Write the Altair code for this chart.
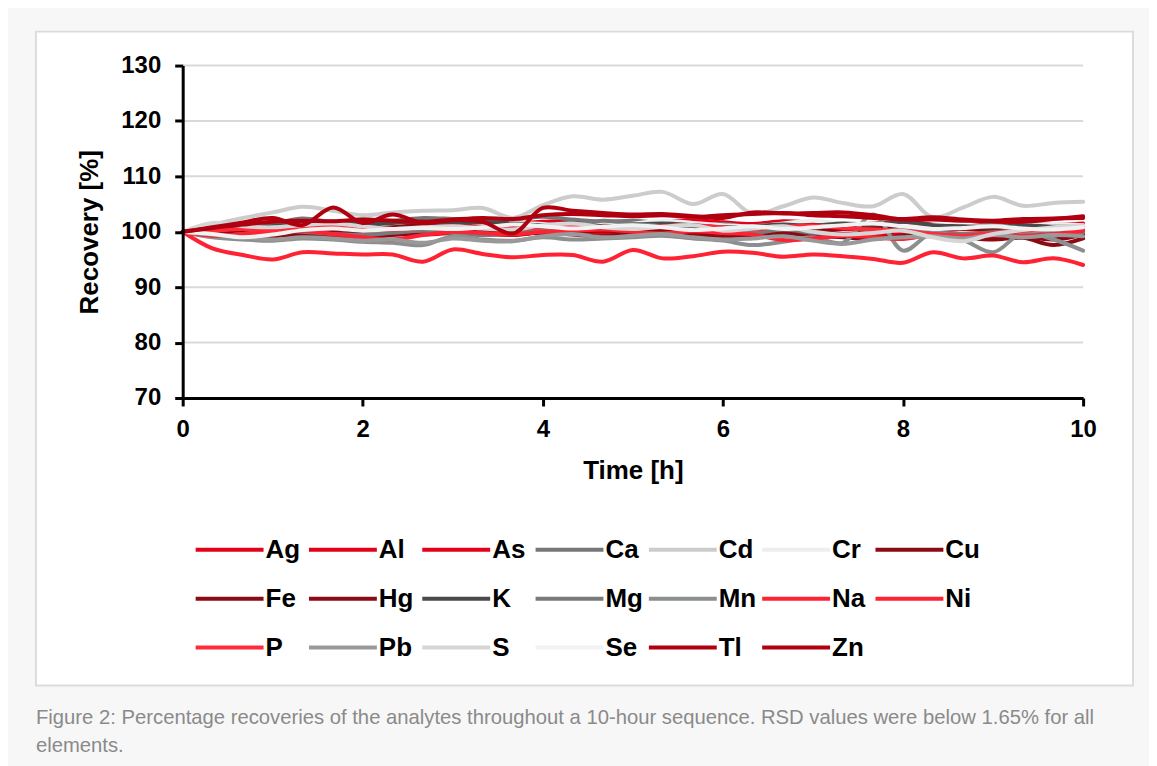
import altair as alt
import pandas as pd

time_h = [0, 0.33, 0.67, 1.0, 1.33, 1.67, 2.0, 2.33, 2.67, 3.0, 3.33, 3.67, 4.0, 4.33, 4.67,
          5.0, 5.33, 5.67, 6.0, 6.33, 6.67, 7.0, 7.33, 7.67, 8.0, 8.33, 8.67, 9.0, 9.33, 9.67, 10.0]

elements = ["Ag", "Al", "As", "Ca", "Cd", "Cr", "Cu",
            "Fe", "Hg", "K", "Mg", "Mn", "Na", "Ni",
            "P", "Pb", "S", "Se", "Tl", "Zn"]
colors = ["#e2001a", "#e2001a", "#e2001a", "#777777", "#cccccc", "#eeeeee", "#8b0a13",
          "#8b0a13", "#8b0a13", "#4a4a4a", "#7a7a7a", "#8c8f8f", "#ff2233", "#ff2233",
          "#ff2a3a", "#999999", "#d6d6d6", "#f2f2f2", "#b0000f", "#b0000f"]

ag = [100, 99.9, 100.1, 100.0, 100.2, 99.9, 100.1, 100.3, 100.0, 100.2, 100.4, 100.1, 100.3, 100.5, 100.2,
      100.4, 100.6, 100.3, 100.1, 100.4, 100.6, 100.3, 100.5, 100.2, 100.0, 100.3, 100.5, 100.2, 100.4, 100.3, 100.2]
al = [100, 100.6, 101.0, 101.3, 101.0, 101.4, 101.8, 101.5, 101.2, 101.6, 101.9, 101.5, 101.8, 102.0, 101.7,
      101.4, 101.8, 102.1, 101.7, 101.4, 101.9, 101.6, 101.2, 101.5, 101.8, 101.3, 101.0, 101.4, 101.7, 101.3, 101.5]
as_ = [100, 99.5, 99.8, 100.2, 99.6, 99.3, 99.7, 100.0, 99.5, 99.8, 100.1, 99.6, 99.9, 100.2, 99.8,
       99.5, 99.9, 100.2, 99.7, 99.4, 99.8, 100.0, 99.6, 99.3, 99.7, 99.9, 99.5, 99.2, 99.6, 99.8, 99.4]
ca = [100, 100.8, 101.3, 101.5, 102.4, 101.8, 102.2, 102.0, 102.5, 102.3, 102.0, 102.2, 102.7, 102.2, 101.8,
      102.0, 101.5, 101.0, 101.4, 100.8, 101.0, 100.5, 100.8, 101.0, 100.6, 100.4, 100.8, 101.2, 100.6, 100.3, 100.5]
cd = [100, 101.3, 102.5, 103.5, 104.5, 103.8, 103.0, 103.5, 103.8, 103.9, 104.3, 102.5, 104.8, 106.4, 105.8,
      106.5, 107.2, 105.0, 106.8, 103.2, 104.6, 106.2, 105.2, 104.6, 106.8, 102.6, 104.4, 106.3, 104.7, 105.2, 105.4]
cr = [100, 100.2, 100.0, 100.5, 100.8, 100.6, 100.9, 101.2, 101.0, 100.7, 101.3, 101.6, 101.4, 101.0, 101.8,
      101.5, 102.0, 101.6, 101.2, 101.0, 101.5, 102.0, 101.4, 101.0, 100.8, 101.3, 101.1, 100.9, 101.2, 101.4, 101.2]
cu = [100, 99.8, 100.2, 100.5, 100.3, 100.0, 99.7, 100.0, 100.3, 100.0, 99.8, 100.1, 99.6, 99.9, 100.2,
      99.8, 100.1, 99.9, 99.6, 100.0, 100.3, 99.8, 99.5, 99.9, 100.2, 99.7, 99.4, 99.8, 99.2, 98.6, 99.5]
fe = [100, 100.5, 100.2, 99.8, 100.6, 101.0, 100.4, 100.8, 101.2, 100.6, 100.3, 100.8, 101.2, 101.0, 100.7,
      101.1, 100.5, 100.2, 100.6, 100.9, 100.4, 100.1, 100.6, 100.9, 100.4, 100.2, 100.6, 100.3, 99.8, 100.4, 100.9]
hg = [100, 99.4, 99.0, 99.2, 99.6, 99.3, 99.0, 99.4, 99.8, 100.1, 99.7, 99.4, 99.9, 99.5, 99.2,
      99.6, 99.9, 99.4, 99.0, 99.5, 99.8, 99.3, 99.0, 98.7, 99.3, 99.6, 99.0, 98.6, 98.9, 97.6, 98.8]
k = [100, 100.3, 100.8, 101.0, 101.5, 101.8, 101.3, 101.6, 101.8, 101.4, 101.7, 101.5, 101.2, 101.6, 101.0,
     101.3, 101.5, 101.2, 100.8, 101.0, 101.3, 101.1, 101.5, 101.3, 101.8, 101.2, 101.0, 100.8, 101.2, 100.9, 101.0]
mg = [100, 99.2, 99.6, 100.2, 100.0, 99.6, 99.4, 99.8, 100.2, 99.8, 99.4, 99.7, 100.5, 101.2, 102.0,
      101.5, 101.0, 100.6, 100.2, 99.8, 100.4, 99.8, 99.4, 99.9, 100.3, 100.0, 99.6, 99.9, 100.2, 99.7, 99.9]
mn = [100, 99.0, 98.6, 98.4, 98.8, 98.6, 98.2, 98.0, 97.6, 99.2, 98.6, 98.4, 99.0, 98.6, 98.8,
      99.0, 99.3, 98.8, 98.4, 97.6, 98.2, 99.0, 98.0, 103.1, 96.6, 99.8, 98.5, 96.3, 99.8, 98.6, 96.6]
na = [100, 97.0, 95.8, 95.0, 96.3, 96.1, 95.9, 95.9, 94.6, 96.8, 96.0, 95.4, 95.8, 95.8, 94.6,
      96.7, 95.2, 95.6, 96.4, 96.2, 95.5, 95.9, 95.6, 95.1, 94.4, 96.3, 95.2, 95.7, 94.5, 95.2, 94.0]
ni = [100, 99.3, 99.6, 100.0, 100.2, 99.6, 99.0, 98.6, 99.4, 100.0, 99.8, 99.5, 100.0, 100.2, 100.4,
      100.0, 99.7, 100.1, 99.8, 99.5, 98.5, 98.8, 99.3, 99.0, 98.7, 99.5, 99.2, 99.6, 99.3, 99.6, 100.2]
p = [100, 100.2, 100.5, 100.3, 100.6, 100.9, 100.6, 100.4, 100.7, 101.0, 100.8, 100.5, 100.9, 101.1, 100.8,
     100.6, 101.0, 101.2, 100.8, 100.5, 100.9, 101.1, 100.7, 100.4, 100.2, 99.6, 99.3, 99.8, 100.2, 100.6, 100.9]
pb = [100, 99.5, 99.0, 98.6, 99.0, 98.8, 98.4, 98.6, 98.0, 98.8, 98.4, 98.3, 99.2, 99.6, 99.0,
      99.3, 99.6, 99.0, 98.6, 98.8, 99.2, 98.4, 97.8, 98.6, 99.0, 99.2, 98.8, 99.4, 99.0, 99.4, 99.2]
s = [100, 101.6, 101.0, 100.8, 101.2, 101.5, 101.0, 100.5, 100.8, 101.0, 100.6, 100.4, 101.2, 101.5, 100.8,
     100.5, 100.9, 101.2, 100.2, 100.6, 101.0, 100.0, 99.5, 99.8, 100.2, 99.0, 98.3, 99.6, 100.3, 100.8, 101.2]
se = [100, 99.6, 99.0, 99.5, 100.3, 100.6, 100.2, 100.5, 100.7, 100.5, 100.8, 101.3, 101.0, 100.6, 100.9,
      101.2, 100.8, 100.3, 100.6, 101.0, 100.5, 100.8, 101.2, 101.5, 101.0, 100.5, 100.7, 101.0, 100.6, 100.4, 100.8]
tl = [100, 100.8, 101.7, 102.5, 101.2, 104.4, 101.6, 103.1, 101.6, 102.1, 101.8, 99.7, 104.3, 103.8, 103.4,
      103.1, 103.2, 102.8, 102.5, 103.5, 103.3, 103.4, 103.5, 103.0, 102.2, 102.2, 102.0, 101.9, 101.8, 102.3, 102.8]
zn = [100, 100.7, 101.3, 101.8, 102.0, 101.9, 102.2, 102.0, 101.8, 102.2, 102.5, 102.3, 103.0, 103.2, 103.0,
      102.8, 103.0, 102.7, 103.0, 103.2, 103.4, 103.0, 102.8, 102.5, 102.3, 102.6, 102.2, 102.0, 102.3, 102.4, 102.5]

y_ticks = [70, 80, 90, 100, 110, 120, 130]
grid_values = [80, 90, 100, 110, 120, 130]
x_ticks = [0, 2, 4, 6, 8, 10]

caption = ("Figure 2: Percentage recoveries of the analytes throughout a 10-hour sequence. "
           "RSD values were below 1.65% for all\nelements.")

series = {"Ag": ag, "Al": al, "As": as_, "Ca": ca, "Cd": cd, "Cr": cr, "Cu": cu,
          "Fe": fe, "Hg": hg, "K": k, "Mg": mg, "Mn": mn, "Na": na, "Ni": ni,
          "P": p, "Pb": pb, "S": s, "Se": se, "Tl": tl, "Zn": zn}

rows = []
for i, e in enumerate(elements):
    for t, v in zip(time_h, series[e]):
        rows.append({"time": t, "element": e, "recovery": v, "idx": i})
df = pd.DataFrame(rows)

W, H = 902, 333
FONT = "Liberation Sans, Arial, sans-serif"

ysc = alt.Scale(domain=[70, 130], nice=False, zero=False)
xsc = alt.Scale(domain=[0, 10], nice=False, zero=False)
y_axis = alt.Axis(values=y_ticks, title="Recovery [%]", labelPadding=14, titlePadding=18,
                  zindex=1, labelFlush=False)
x_axis = alt.Axis(values=x_ticks, title="Time [h]", labelPadding=12, titlePadding=16,
                  zindex=1, labelFlush=False)

panel = alt.Chart(pd.DataFrame({"a": [0]})).mark_rect(
    fill="white", stroke="#dcdcdc", strokeWidth=2
).encode(x=alt.value(-147), x2=alt.value(952), y=alt.value(-34), y2=alt.value(621))

grid = alt.Chart(pd.DataFrame({"recovery": grid_values})).mark_rule(
    color="#d9d9d9", strokeWidth=2
).encode(y=alt.Y("recovery:Q", scale=ysc, axis=y_axis), x=alt.value(0), x2=alt.value(W))

lines = alt.Chart(df).mark_line(
    interpolate="catmull-rom", strokeWidth=4, strokeCap="round", strokeJoin="round"
).encode(
    x=alt.X("time:Q", scale=xsc, axis=x_axis),
    y=alt.Y("recovery:Q", scale=ysc, axis=y_axis),
    color=alt.Color("element:N", scale=alt.Scale(domain=elements, range=colors),
                    legend=alt.Legend(title=None, orient="none", legendX=11, legendY=449,
                                      direction="horizontal", columns=7, gridAlign="all",
                                      symbolType="stroke", symbolSize=4624, symbolStrokeWidth=4,
                                      labelFontSize=26, labelFontWeight="bold", labelFont=FONT,
                                      labelColor="black", labelOffset=0, columnPadding=-2.5,
                                      rowPadding=-1, padding=0, zindex=1)),
    order=alt.Order("time:Q"),
    detail="idx:O",
)

cap = alt.Chart(pd.DataFrame({"t": [caption]})).mark_text(
    align="left", baseline="alphabetic", font=FONT, fontSize=20.3, color="#8a8a8a",
    lineBreak="\n", lineHeight=28
).encode(text="t:N", x=alt.value(-147), y=alt.value(660))

chart = alt.layer(panel, grid, lines, cap).properties(
    width=W, height=H, background="#f7f7f7",
    padding={"left": 27, "top": 22, "right": 15, "bottom": 12}
).configure_view(stroke=None).configure_axis(
    grid=False, domainColor="black", domainWidth=3, tickColor="black", tickWidth=3, tickSize=8,
    labelFont=FONT, labelFontSize=24, labelFontWeight="bold", labelColor="black",
    titleFont=FONT, titleFontSize=26, titleFontWeight="bold", titleColor="black"
)

chart.save("out.html", embed_options={"renderer": "svg", "actions": False})
